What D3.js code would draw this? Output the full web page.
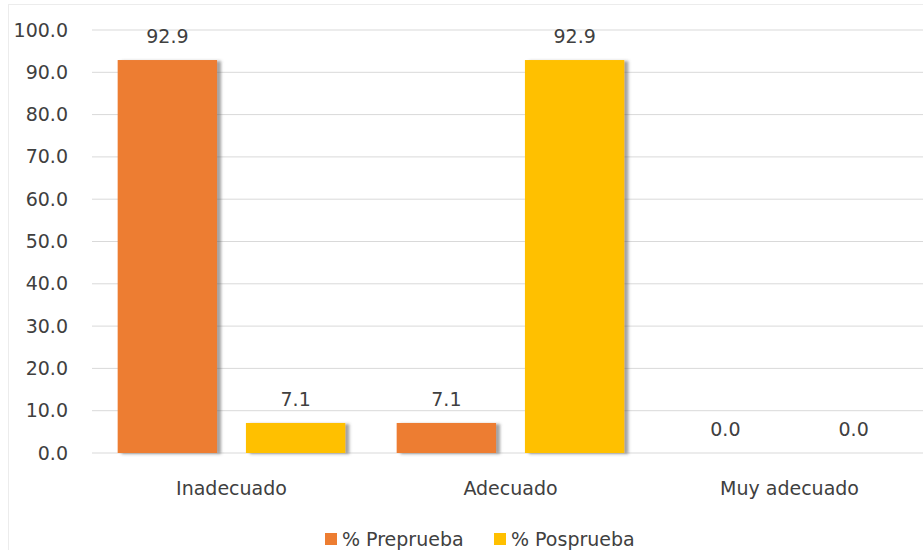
<!DOCTYPE html>
<html>
<head>
<meta charset="utf-8">
<script src="https://cdn.jsdelivr.net/npm/d3@7"></script>
<style>
  body { margin: 0; background: #fff; }
  svg text { font-family: "DejaVu Sans", sans-serif; fill: #404040; }
</style>
</head>
<body>
<svg id="chart" width="923" height="550"></svg>
<script>
const categories = ["Inadecuado", "Adecuado", "Muy adecuado"];
const seriesNames = ["% Preprueba", "% Posprueba"];
const preprueba = [92.9, 7.1, 0.0];
const posprueba = [7.1, 92.9, 0.0];
const yTicks = [0, 10, 20, 30, 40, 50, 60, 70, 80, 90, 100];
const colors = ["#ED7D31", "#FFC000"];

const svg = d3.select("#chart");
const margin = { top: 30, right: -6, bottom: 97, left: 92 };
const width = 923 - margin.left - margin.right;
const height = 550 - margin.top - margin.bottom;

// light outer frame
svg.append("rect").attr("x", 8.5).attr("y", 4.5).attr("width", 940).attr("height", 560)
  .attr("fill", "none").attr("stroke", "#ececec");

const defs = svg.append("defs");
const f = defs.append("filter").attr("id", "shadow").attr("x", "-10%").attr("y", "-10%").attr("width", "130%").attr("height", "130%");
f.append("feDropShadow").attr("dx", 4).attr("dy", 1).attr("stdDeviation", 1.8)
  .attr("flood-color", "#555").attr("flood-opacity", 0.55);

const g = svg.append("g").attr("transform", `translate(${margin.left},${margin.top})`);

const x0 = d3.scaleBand().domain(categories).range([0, width]).paddingInner(0).paddingOuter(0);
const x1 = d3.scaleBand().domain(seriesNames).range([0, x0.bandwidth()]).paddingInner(0.225).paddingOuter(0.2);
const y = d3.scaleLinear().domain([0, 100]).range([height, 0]);

// gridlines
g.append("g").selectAll("line").data(yTicks).join("line")
  .attr("x1", 0).attr("x2", width)
  .attr("y1", d => y(d)).attr("y2", d => y(d))
  .attr("stroke", "#d9d9d9").attr("stroke-width", 1);

// y axis labels
const yAxis = d3.axisLeft(y).tickValues(yTicks).tickFormat(d3.format(".1f")).tickSize(0).tickPadding(24);
const yg = g.append("g").call(yAxis);
yg.select(".domain").remove();
yg.selectAll("text").style("font-size", "19px").attr("fill", "#404040");

// x axis labels
const xAxis = d3.axisBottom(x0).tickSize(0).tickPadding(29);
const xg = g.append("g").attr("transform", `translate(0,${height})`).call(xAxis);
xg.select(".domain").remove();
xg.selectAll("text").style("font-size", "19px").attr("fill", "#404040");

const rows = categories.map((c, i) => ({ cat: c, vals: [preprueba[i], posprueba[i]] }));

const groups = g.append("g").selectAll("g").data(rows).join("g")
  .attr("transform", d => `translate(${x0(d.cat)},0)`);

groups.selectAll("rect").data(d => d.vals.map((v, j) => ({ name: seriesNames[j], v, j }))).join("rect")
  .attr("x", d => x1(d.name))
  .attr("y", d => y(d.v))
  .attr("width", x1.bandwidth())
  .attr("height", d => height - y(d.v))
  .attr("fill", d => colors[d.j])
  .attr("filter", d => d.v > 0 ? "url(#shadow)" : null);

groups.selectAll("text.val").data(d => d.vals.map((v, j) => ({ name: seriesNames[j], v }))).join("text")
  .attr("class", "val")
  .attr("x", d => x1(d.name) + x1.bandwidth() / 2)
  .attr("y", d => y(d.v) - 17)
  .attr("text-anchor", "middle")
  .style("font-size", "19px")
  .text(d => d3.format(".1f")(d.v));

// legend
const legend = svg.append("g").attr("transform", "translate(325,546)");
const items = [{ name: seriesNames[0], x: 0 }, { name: seriesNames[1], x: 169 }];
items.forEach((it, i) => {
  legend.append("rect").attr("x", it.x).attr("y", -13).attr("width", 12).attr("height", 12).attr("fill", colors[i]);
  legend.append("text").attr("x", it.x + 17).attr("y", 0).style("font-size", "19px").text(it.name);
});
</script>
</body>
</html>
